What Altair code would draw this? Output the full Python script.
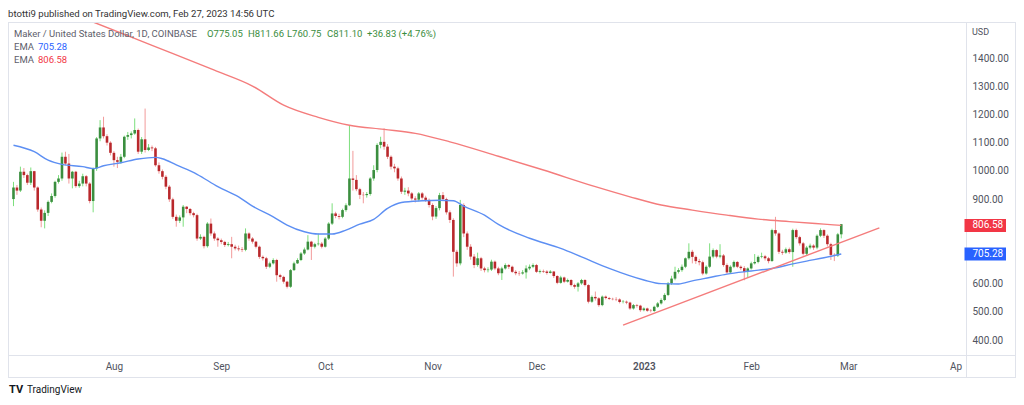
import altair as alt
import pandas as pd

# ---------------- data ----------------
first_open = 900
last_open = 775.05
close = [
    941, 930, 997, 985, 958, 999, 941, 863, 823, 851,
    890, 911, 961, 973, 1050, 1026, 973, 997, 946, 955,
    981, 955, 893, 1009, 1115, 1154, 1123, 1100, 1064, 1038,
    1032, 1050, 1121, 1127, 1133, 1145, 1068, 1112, 1074, 1083,
    1080, 1020, 999, 979, 944, 899, 837, 823, 835, 873,
    865, 850, 843, 760, 766, 733, 813, 778, 760, 754,
    748, 737, 740, 731, 725, 722, 720, 778, 760, 749,
    731, 695, 690, 660, 672, 684, 630, 624, 607, 589,
    648, 672, 684, 707, 721, 749, 731, 740, 742, 731,
    760, 813, 849, 840, 837, 861, 878, 973, 968, 935,
    915, 914, 918, 973, 1003, 1092, 1103, 1086, 1050, 1015,
    1009, 973, 926, 930, 920, 902, 898, 920, 905, 897,
    879, 838, 868, 914, 900, 853, 826, 713, 672, 879,
    778, 731, 696, 666, 690, 654, 648, 650, 678, 654,
    637, 654, 666, 660, 642, 637, 636, 640, 654, 660,
    666, 642, 645, 643, 638, 643, 627, 603, 622, 607,
    613, 595, 589, 601, 613, 595, 536, 553, 548, 524,
    554, 549, 546, 545, 544, 535, 536, 533, 512, 524,
    522, 506, 512, 504, 503, 518, 530, 542, 560, 601,
    618, 642, 648, 660, 690, 713, 695, 680, 676, 636,
    660, 696, 719, 696, 700, 666, 640, 660, 677, 660,
    655, 642, 654, 672, 677, 695, 697, 690, 680, 790,
    778, 713, 710, 722, 712, 790, 765, 743, 706, 728,
    735, 728, 770, 790, 770, 740, 702, 700, 775, 811.10,
]
high = [
    961, 950, 1015, 1010, 990, 1012, 1000, 945, 870, 860,
    895, 920, 965, 985, 1065, 1068, 1060, 1000, 1000, 965,
    990, 985, 960, 1012, 1120, 1180, 1192, 1130, 1105, 1070,
    1050, 1060, 1125, 1138, 1140, 1186, 1150, 1120, 1221, 1095,
    1090, 1085, 1030, 1005, 985, 950, 905, 845, 842, 879,
    875, 868, 855, 848, 775, 770, 818, 831, 785, 765,
    760, 752, 748, 766, 738, 735, 730, 796, 782, 765,
    752, 735, 700, 695, 678, 690, 688, 635, 628, 610,
    652, 678, 690, 712, 728, 772, 752, 745, 778, 748,
    765, 818, 885, 855, 848, 866, 885, 1162, 1071, 985,
    940, 925, 925, 978, 1020, 1098, 1121, 1151, 1095, 1055,
    1025, 1015, 980, 940, 942, 925, 910, 925, 925, 912,
    902, 885, 875, 922, 925, 905, 860, 832, 720, 897,
    885, 785, 740, 705, 710, 695, 660, 658, 685, 682,
    660, 660, 672, 670, 664, 648, 645, 648, 665, 668,
    672, 670, 650, 650, 648, 648, 645, 630, 628, 625,
    618, 616, 600, 606, 617, 616, 598, 558, 572, 552,
    558, 558, 553, 550, 552, 548, 542, 540, 536, 528,
    528, 525, 516, 515, 510, 522, 535, 548, 566, 606,
    628, 660, 655, 668, 693, 743, 720, 700, 688, 682,
    665, 743, 725, 722, 740, 705, 672, 665, 682, 680,
    665, 662, 658, 678, 705, 700, 710, 702, 695, 795,
    837, 782, 720, 728, 728, 795, 795, 770, 748, 734,
    742, 740, 775, 796, 793, 775, 745, 708, 780, 811.66,
]
low = [
    875, 915, 925, 975, 950, 950, 930, 855, 800, 796,
    840, 885, 905, 955, 965, 1020, 955, 938, 940, 940,
    945, 945, 885, 853, 1000, 1105, 1115, 1090, 1055, 1015,
    1010, 1025, 1045, 1110, 1115, 1128, 1060, 1060, 1065, 1070,
    1070, 1015, 990, 970, 935, 890, 830, 802, 815, 802,
    850, 842, 835, 752, 755, 725, 728, 770, 752, 731,
    740, 730, 732, 690, 718, 715, 712, 715, 752, 742,
    725, 688, 682, 652, 655, 668, 607, 615, 600, 583,
    585, 645, 670, 680, 702, 718, 684, 725, 735, 725,
    728, 755, 808, 832, 828, 832, 855, 875, 930, 928,
    900, 885, 905, 912, 965, 995, 1080, 1075, 1042, 1005,
    995, 965, 918, 915, 910, 895, 888, 892, 898, 890,
    870, 825, 830, 860, 893, 845, 815, 625, 660, 665,
    765, 720, 685, 655, 660, 645, 640, 640, 645, 648,
    630, 613, 650, 652, 638, 630, 628, 632, 618, 648,
    655, 638, 636, 638, 632, 636, 620, 598, 600, 602,
    604, 590, 582, 572, 596, 590, 530, 532, 540, 518,
    520, 544, 542, 541, 538, 530, 530, 527, 507, 508,
    515, 500, 502, 500, 498, 500, 514, 526, 538, 556,
    596, 612, 636, 642, 655, 685, 672, 670, 665, 630,
    632, 655, 690, 690, 690, 660, 635, 638, 655, 655,
    648, 612, 620, 650, 668, 672, 690, 682, 672, 678,
    770, 705, 702, 706, 706, 660, 758, 735, 700, 700,
    722, 720, 722, 765, 762, 732, 684, 680, 695, 760.75,
]

ema50_dates = ["2022-07-03", "2022-07-09", "2022-07-13", "2022-07-17", "2022-07-23",
               "2022-07-26", "2022-07-29", "2022-08-03", "2022-08-08", "2022-08-13",
               "2022-08-15", "2022-08-19", "2022-08-25", "2022-08-31", "2022-09-06",
               "2022-09-10", "2022-09-16", "2022-09-20", "2022-09-25", "2022-09-29",
               "2022-10-03", "2022-10-07", "2022-10-11", "2022-10-15", "2022-10-19",
               "2022-10-23", "2022-10-29", "2022-11-03", "2022-11-07", "2022-11-10",
               "2022-11-16", "2022-11-20", "2022-11-29", "2022-12-08", "2022-12-14",
               "2022-12-22", "2023-01-01", "2023-01-06", "2023-01-11", "2023-01-15",
               "2023-01-20", "2023-01-25", "2023-02-01", "2023-02-07", "2023-02-13",
               "2023-02-17", "2023-02-22", "2023-02-27"]
ema50_vals = [1091, 1068, 1038, 1023, 1015, 1008, 1018, 1029, 1042, 1048,
              1043, 1021, 988, 944, 908, 875, 837, 808, 784, 776,
              776, 790, 811, 828, 867, 888, 894, 896, 894, 875,
              843, 810, 761, 725, 695, 654, 613, 600, 599, 610,
              622, 634, 645, 654, 670, 680, 692, 705.28]

ema200_dates = ["2022-07-20", "2022-07-26", "2022-08-12", "2022-08-30", "2022-09-10",
                "2022-09-19", "2022-09-29", "2022-10-08", "2022-10-18", "2022-10-27",
                "2022-11-06", "2022-11-20", "2022-12-03", "2022-12-18", "2022-12-28",
                "2023-01-06", "2023-01-15", "2023-01-25", "2023-02-03", "2023-02-12",
                "2023-02-22", "2023-02-27"]
ema200_vals = [1557, 1528, 1445, 1357, 1301, 1233, 1190, 1162, 1147, 1133,
               1103, 1052, 1003, 944, 908, 879, 861, 843, 829, 820, 811, 806.58]

trend_dates = ["2022-12-26", "2023-03-10"]
trend_vals = [453, 798]

# 700 and 800 sit under the two EMA price tags in the reference
price_ticks = [400, 500, 600, 900, 1000, 1100, 1200, 1300, 1400]
month_ticks = [(2022, 8), (2022, 9), (2022, 10), (2022, 11), (2022, 12),
               (2023, 1), (2023, 2), (2023, 3), (2023, 4)]

# ---------------- styling ----------------
W, H = 958, 333
FONT = "Roboto"
UP_BODY, UP_WICK = "#3b8e3f", "#7ddf7d"
DN_BODY, DN_WICK = "#b9282c", "#f29a9a"
BORDER = "#e0e3eb"
AXIS_TXT = "#50535e"

dates = [d.strftime("%Y-%m-%d") for d in pd.date_range("2022-07-03", "2023-02-27", freq="D")]
opens = [first_open] + close[:-1]
opens[-1] = last_open
df = pd.DataFrame({"date": dates, "open": opens, "high": high, "low": low, "close": close})
up = df["close"] >= df["open"]
df["body_color"] = [UP_BODY if u else DN_BODY for u in up]
df["wick_color"] = [UP_WICK if u else DN_WICK for u in up]

x_scale = alt.Scale(
    type="utc",
    domain=[alt.DateTime(year=2022, month=7, date=2, hours=20, minutes=38, utc=True),
            alt.DateTime(year=2023, month=4, date=2, hours=13, minutes=41, utc=True)],
)
y_scale = alt.Scale(domain=[347, 1528], nice=False, zero=False)

x_axis = alt.Axis(
    values=[alt.DateTime(year=y, month=m, date=1, utc=True) for y, m in month_ticks],
    labelExpr=("utcmonth(datum.value) == 0 ? utcFormat(datum.value, '%Y') : "
               "(utcmonth(datum.value) == 3 ? 'Ap' : utcFormat(datum.value, '%b'))"),
    title=None, domain=False, ticks=False, tickSize=0, grid=False,
    labelPadding=6, labelFontSize=10, labelColor=AXIS_TXT, labelFont=FONT,
    labelFlush=False, labelOverlap=False,
    labelFontWeight={"condition": {"test": "utcmonth(datum.value) == 0", "value": 600},
                     "value": 400},
)
y_axis = alt.Axis(
    orient="right", values=price_ticks, format=".2f", title=None, domain=False,
    ticks=False, tickSize=0, grid=False, labelPadding=6, labelFontSize=10,
    labelColor=AXIS_TXT, labelFont=FONT, labelOverlap=False,
)

base = alt.Chart(df)
wicks = base.mark_rule(strokeWidth=1).encode(
    x=alt.X("date:T", scale=x_scale, axis=x_axis),
    y=alt.Y("low:Q", scale=y_scale, axis=y_axis),
    y2="high:Q",
    color=alt.Color("wick_color:N", scale=None),
)
bodies = base.mark_bar(size=2.6).encode(
    x=alt.X("date:T", scale=x_scale, axis=x_axis),
    y=alt.Y("open:Q", scale=y_scale, axis=y_axis),
    y2="close:Q",
    color=alt.Color("body_color:N", scale=None),
)

def line(dates_, vals_, color, clip=False, interp="monotone"):
    d = pd.DataFrame({"date": dates_, "v": vals_})
    return alt.Chart(d).mark_line(color=color, strokeWidth=1.4, interpolate=interp, clip=clip).encode(
        x=alt.X("date:T", scale=x_scale, axis=x_axis),
        y=alt.Y("v:Q", scale=y_scale, axis=y_axis),
    )

ema50 = line(ema50_dates, ema50_vals, "#5d8ff3")
ema200 = line(ema200_dates, ema200_vals, "#f47c7c", clip=True)
trend = line(trend_dates, trend_vals, "#f47c7c", interp="linear")

one = pd.DataFrame({"a": [1]})

def rule(x1, x2, y1, y2):
    return alt.Chart(one).mark_rule(color=BORDER, strokeWidth=1).encode(
        x=alt.value(x1), x2=alt.value(x2), y=alt.value(y1), y2=alt.value(y2))

frame = [
    rule(0.5, 0.5, 0, 356),
    rule(958.5, 958.5, 0, 356),
    rule(1007.5, 1007.5, 0, 356),
    rule(0, 1008, 0.5, 0.5),
    rule(0, 1008, 333.5, 333.5),
    rule(0, 1008, 355.5, 355.5),
]

# price tags
tags_df = pd.DataFrame({"v": [806.58, 705.28], "label": ["806.58", "705.28"],
                        "fill": ["#f23645", "#2962ff"]})
tags_df["lo"] = tags_df["v"] - 23
tags_df["hi"] = tags_df["v"] + 23
tag_rect = alt.Chart(tags_df).mark_rect().encode(
    x=alt.value(956.5), x2=alt.value(998),
    y=alt.Y("lo:Q", scale=y_scale, axis=y_axis), y2="hi:Q",
    color=alt.Color("fill:N", scale=None))
tag_text = alt.Chart(tags_df).mark_text(align="left", baseline="middle", font=FONT,
                                         fontSize=10, color="white").encode(
    x=alt.value(964.5), y=alt.Y("v:Q", scale=y_scale, axis=y_axis), text="label:N")

def label(text, x, y, color, size=10, weight="normal", baseline="middle"):
    return alt.Chart(pd.DataFrame({"t": [text]})).mark_text(
        align="left", baseline=baseline, font=FONT, fontSize=size, fontWeight=weight,
        color=color).encode(x=alt.value(x), y=alt.value(y), text="t:N")

GREEN = "#3a8d3e"
GRAY = "#5d606b"
texts = [
    label("btotti9 published on TradingView.com, Feb 27, 2023 14:56 UTC", 0, -5, "#333333", 9.6,
          baseline="alphabetic"),
    label("Maker / United States Dollar, 1D, COINBASE", 6, 11.5, GRAY, 9.5),
    label("O775.05", 199, 11.5, GREEN, 9.5),
    label("H811.66", 240, 11.5, GREEN, 9.5),
    label("L760.75", 279, 11.5, GREEN, 9.5),
    label("C811.10", 319, 11.5, GREEN, 9.5),
    label("+36.83 (+4.76%)", 359, 11.5, GREEN, 9.5),
    label("EMA", 6, 24.7, GRAY, 9.5),
    label("705.28", 30, 24.7, "#2962ff", 9.5),
    label("EMA", 6, 38.3, GRAY, 9.5),
    label("806.58", 30, 38.3, "#f23645", 9.5),
    label("USD", 964, 10, AXIS_TXT, 9),
    label("TV", 1, 368, "#131722", 11, "bold"),
    label("TradingView", 19, 368, "#131722", 10),
]

chart = alt.layer(
    wicks, bodies, ema200, ema50, trend, *frame, tag_rect, tag_text, *texts
).properties(
    width=W, height=H,
    padding={"left": 0, "top": 14, "right": 50, "bottom": 42},
    autosize=alt.AutoSizeParams(type="none"),
    background="white",
).configure_view(stroke=None)

chart.save("out.html", embed_options={"renderer": "svg", "actions": False})
